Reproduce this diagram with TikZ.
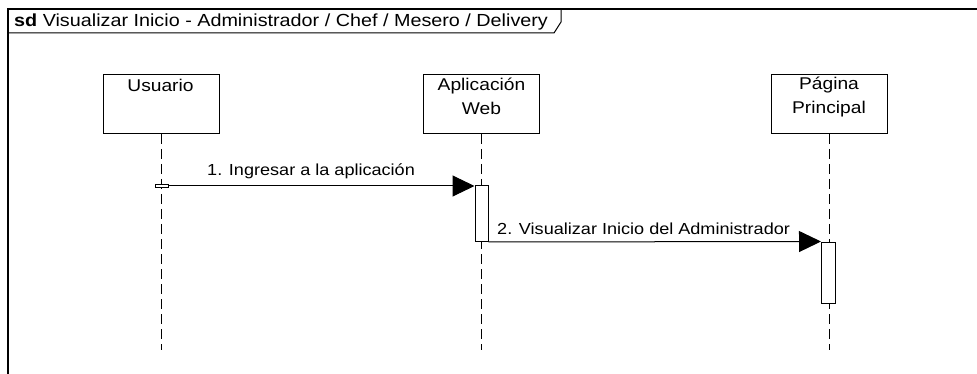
\documentclass[tikz,border=0pt]{standalone}
\usepackage{fontspec}
\setmainfont{Liberation Sans}[FakeStretch=1.13]
\usetikzlibrary{arrows.meta}
\begin{document}
\begin{tikzpicture}[x=1pt,y=1pt,
  lbl/.style={font=\fontsize{16}{20}\selectfont, inner sep=0pt, text=black},
  objtxt/.style={font=\fontsize{17}{20}\selectfont, inner sep=0pt, anchor=base, text=black},
  obj/.style={draw, line width=1pt, minimum width=116pt, minimum height=59pt, anchor=north, inner sep=0pt},
  life/.style={line width=0.9pt, dash pattern=on 10pt off 5pt},
  act/.style={draw, fill=white, line width=1pt, minimum width=13pt, inner sep=0pt, anchor=north},
  msg/.style={line width=1pt, -{Triangle[length=22pt,width=21pt]}},
  frm/.style={line width=1.2pt},
]
\useasboundingbox (0,0) rectangle (977,-374);
\begin{scope}
\clip (0,0) rectangle (977,-374);
\draw[frm] (8,-9) rectangle (1000,-400);
\end{scope}
% title tab
\draw[line width=1pt] (8,-33) -- (554,-33) -- (561,-22) -- (561,-9);
\node[inner sep=0pt, anchor=base west, font=\fontsize{17.5}{20}\selectfont] (title) at (14,-27)
  {\textbf{sd} Visualizar Inicio - Administrador / Chef / Mesero / Delivery};

% objects
\node[obj] (usr) at (161,-74) {};
\node[obj] (web) at (481.5,-74) {};
\node[obj] (pag) at (829,-74) {};
\node[objtxt] (usrT) at (160.5,-91.5) {Usuario};
\node[objtxt] (webT1) at (481.5,-90.5) {Aplicación};
\node[objtxt] (webT2) at (481.5,-114.5) {Web};
\node[objtxt] (pagT1) at (829,-90) {Página};
\node[objtxt] (pagT2) at (829,-114) {Principal};

% lifeline ends
\coordinate (usrE) at (161,-350);
\coordinate (webE) at (481.5,-350);
\coordinate (pagE) at (829,-350);
\draw[life] (usr.south) -- (usrE);
\draw[life] (web.south) -- (webE);
\draw[life] (pag.south) -- (pagE);

% activations
\node[act, minimum width=13pt, minimum height=3pt] (usrA) at (161.5,-184.5) {};
\node[act, minimum height=56pt] (webA) at (481.5,-185) {};
\node[act, minimum height=61.5pt, minimum width=14pt] (pagA) at (828.5,-241.5) {};

% messages
\draw[msg] (usrA.north east |- 0,-186) -- (webA.north west |- 0,-186);
\node[lbl, anchor=base west] (m1) at (207,-176) {1. Ingresar a la aplicación};
\draw[msg] (webA.south east) -- (pagA.north west);
\node[lbl, anchor=base west] (m2) at (497,-235) {2. Visualizar Inicio del Administrador};
\end{tikzpicture}
\end{document}
